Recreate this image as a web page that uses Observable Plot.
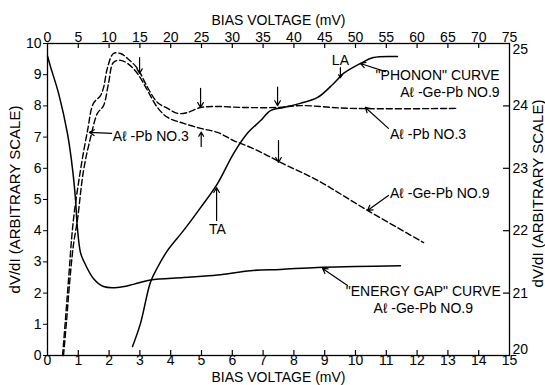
<!DOCTYPE html>
<html><head><meta charset="utf-8">
<script src="https://cdn.jsdelivr.net/npm/d3@7"></script>
<script src="https://cdn.jsdelivr.net/npm/@observablehq/plot@0.6"></script>
<style>body{margin:0;background:#fff}svg{display:block}</style>
</head><body><div id="chart"></div>
<script>
// "ENERGY GAP" curve (left scale)
const gapX = [0, 0.1, 0.36, 0.65, 0.81, 0.91, 0.97, 1.07, 1.17, 1.49, 1.82, 2.27, 2.79, 3.34, 4.42, 5.52, 6.59, 7.56, 8.77, 10.0, 11.46];
const gapY = [9.6, 9.25, 8.4, 7.1, 6.0, 5.0, 4.1, 3.3, 3.04, 2.47, 2.21, 2.18, 2.28, 2.42, 2.5, 2.58, 2.72, 2.76, 2.82, 2.85, 2.88];
// "PHONON" curve (plotted on same frame, right scale = 20 + left/2)
const phonX = [2.76, 3.02, 3.34, 3.57, 3.9, 4.42, 4.97, 5.52, 6.04, 6.49, 6.92, 7.24, 7.66, 8.21, 8.77, 9.29, 9.61, 10.16, 10.58, 11.36];
const phonY = [0.29, 1.03, 2.34, 2.82, 3.37, 4.01, 4.74, 5.51, 6.47, 7.12, 7.53, 7.85, 7.95, 8.08, 8.27, 8.72, 9.04, 9.36, 9.55, 9.58];
// Al-Pb No.3 (dashed)
const alpbX = [0.49, 0.58, 0.68, 0.84, 1.07, 1.3, 1.49, 1.72, 1.82, 1.95, 2.14, 2.37, 2.6, 2.92, 3.25, 3.57, 3.9, 4.22, 4.55, 4.97, 5.52, 6.36, 7.47, 8.21, 9.84, 13.31];
const alpbY = [0, 1.12, 2.4, 4.33, 5.93, 7.21, 8.08, 8.33, 8.59, 9.23, 9.68, 9.68, 9.52, 9.2, 8.59, 8.11, 7.92, 7.76, 7.79, 7.95, 7.98, 7.95, 7.95, 8.01, 7.92, 7.92];
// Al-Ge-Pb No.9 (dashed)
const algeX = [0.52, 0.62, 0.71, 0.84, 0.97, 1.17, 1.4, 1.62, 1.82, 1.98, 2.14, 2.37, 2.6, 2.92, 3.25, 3.57, 3.9, 4.42, 4.97, 5.52, 6.04, 6.59, 7.14, 7.56, 8.77, 10.39, 12.21];
const algeY = [0, 1.12, 2.24, 3.53, 4.33, 5.93, 6.99, 7.76, 8.01, 8.72, 9.39, 9.46, 9.36, 9.04, 8.49, 7.95, 7.63, 7.44, 7.28, 7.15, 6.89, 6.67, 6.41, 6.19, 5.61, 4.65, 3.62];

// axis ticks
const bottomTicks = d3.range(0, 16);            // mV
const topTickLabels = d3.range(0, 80, 5);        // 0..75 (top scale)
const leftTicks = d3.range(0, 11);
const rightTickLabels = [20, 21, 22, 23, 24, 25];

// annotations
const noteText = ["Aℓ -Pb NO.3", "TA", "LA", "\"PHONON\" CURVE", "Aℓ -Ge-Pb NO.9", "Aℓ -Pb NO.3", "Aℓ -Ge-Pb NO.9", "\"ENERGY GAP\" CURVE", "Aℓ -Ge-Pb NO.9"];
const noteX = [2.12, 5.52, 9.51, 14.68, 14.68, 11.12, 11.12, 12.2, 12.2];
const noteY = [7.02, 4.04, 9.46, 8.97, 8.43, 7.08, 5.19, 2.05, 1.5];
const noteAnchor = ["start", "middle", "middle", "end", "end", "start", "start", "middle", "middle"];

const arrowX1 = [2.99, 4.97, 4.99, 7.47, 7.5, 5.49, 9.51, 10.97, 11.07, 11.07, 9.74, 2.08];
const arrowY1 = [9.55, 8.56, 6.70, 8.6, 6.89, 4.33, 9.23, 9.1, 7.28, 5.13, 2.24, 7.12];
const arrowX2 = [2.99, 4.97, 4.99, 7.47, 7.5, 5.49, 9.51, 10.16, 10.32, 10.39, 8.93, 1.36];
const arrowY2 = [9.04, 7.95, 7.16, 8.01, 6.19, 5.38, 8.9, 9.36, 7.95, 4.65, 2.79, 7.15];

const zip = (xs, ys) => xs.map((x, i) => ({x, y: ys[i]}));
const notes = noteText.map((t, i) => ({t, x: noteX[i], y: noteY[i], a: noteAnchor[i]}));
const arrows = arrowX1.map((x1, i) => ({x1, y1: arrowY1[i], x2: arrowX2[i], y2: arrowY2[i]}));
const rightPos = v => (v - 20) * 2;   // right scale -> left scale units

const W = 545, H = 385, mT = 43, mB = 30, mL = 47, mR = 36;
const plotH = H - mT - mB, plotW = W - mL - mR;
const font = "'Liberation Sans', Arial, sans-serif";

const noteMark = a => Plot.text(notes.filter(d => d.a === a), {x: "x", y: "y", text: "t", textAnchor: a, fontSize: 14, fill: "black", lineAnchor: "middle"});
const rightAxis = (vals, dy) => Plot.axisY({anchor: "right", ticks: vals.map(rightPos), tickFormat: d => String(20 + d / 2), tickSize: 0, tickPadding: 3, fontSize: 14, label: null, dy});

const chart = Plot.plot({
  width: W, height: H,
  marginTop: mT, marginBottom: mB, marginLeft: mL, marginRight: mR,
  style: {fontFamily: font, fontSize: "14px", color: "black", background: "white"},
  x: {domain: [0, 15]},
  y: {domain: [0, 10]},
  marks: [
    Plot.frame({stroke: "black", strokeWidth: 1.3}),
    // bottom axis (mV)
    Plot.axisX({anchor: "bottom", ticks: bottomTicks, tickSize: 0, tickPadding: 0, fontSize: 14, label: null}),
    Plot.tickX(bottomTicks.slice(1, -1), {x: d => d, insetTop: plotH - 5, stroke: "black", strokeWidth: 1.2}),
    // top axis (labelled x5)
    Plot.axisX({anchor: "top", ticks: topTickLabels.map(v => v / 5), tickFormat: d => String(Math.round(d * 5)), tickSize: 0, tickPadding: 2, fontSize: 14, label: null}),
    Plot.tickX(bottomTicks.slice(1, -1), {x: d => d, insetBottom: plotH - 5, stroke: "black", strokeWidth: 1.2}),
    // left axis
    Plot.axisY({anchor: "left", ticks: leftTicks, tickSize: 4, tickPadding: 2, fontSize: 14, label: null}),
    // right axis (corner labels nudged inward as in the original)
    rightAxis(rightTickLabels.slice(1, -1), 0),
    rightAxis(rightTickLabels.slice(-1), 6),
    rightAxis(rightTickLabels.slice(0, 1), -6),
    Plot.tickY(rightTickLabels.slice(1, -1).map(rightPos), {y: d => d, insetLeft: plotW - 6, stroke: "black", strokeWidth: 1.2}),
    // axis titles
    Plot.text(["BIAS VOLTAGE (mV)"], {frameAnchor: "top", dy: -28, fontSize: 14, fill: "black"}),
    Plot.text(["BIAS VOLTAGE (mV)"], {frameAnchor: "bottom", dy: 26, fontSize: 14, fill: "black"}),
    Plot.text(["dV/dI (ARBITRARY SCALE)"], {frameAnchor: "left", textAnchor: "middle", rotate: -90, dx: -32, fontSize: 15, fill: "black"}),
    Plot.text(["dV/dI (ARBITRARY SCALE)"], {frameAnchor: "right", textAnchor: "middle", rotate: -90, dx: 29, dy: -6, fontSize: 15, fill: "black"}),
    // curves
    Plot.line(zip(gapX, gapY), {x: "x", y: "y", curve: "catmull-rom", stroke: "black", strokeWidth: 1.5}),
    Plot.line(zip(phonX, phonY), {x: "x", y: "y", curve: "catmull-rom", stroke: "black", strokeWidth: 1.5}),
    Plot.line(zip(alpbX, alpbY), {x: "x", y: "y", curve: "catmull-rom", stroke: "black", strokeWidth: 1.4, strokeDasharray: "6,3"}),
    Plot.line(zip(algeX, algeY), {x: "x", y: "y", curve: "catmull-rom", stroke: "black", strokeWidth: 1.4, strokeDasharray: "6,3"}),
    // annotations
    Plot.arrow(arrows, {x1: "x1", y1: "y1", x2: "x2", y2: "y2", stroke: "black", strokeWidth: 1.2, headLength: 7}),
    noteMark("start"), noteMark("middle"), noteMark("end")
  ]
});
document.getElementById("chart").appendChild(chart);
</script>
</body></html>
